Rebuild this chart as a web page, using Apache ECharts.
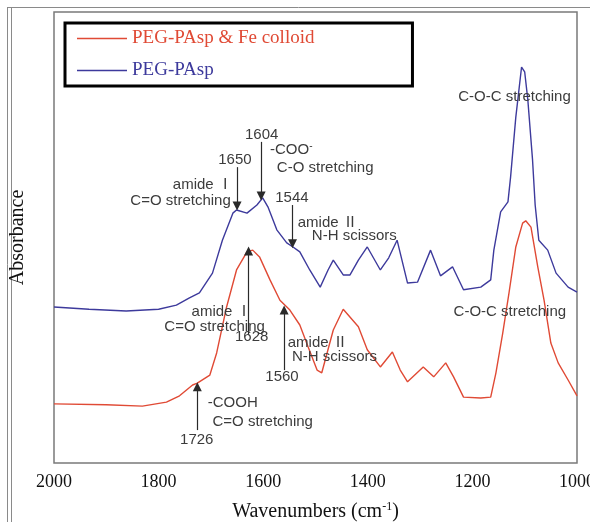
<!DOCTYPE html>
<html>
<head>
<meta charset="utf-8">
<script src="https://cdn.jsdelivr.net/npm/echarts@6/dist/echarts.min.js"></script>
<style>
  html, body { margin: 0; padding: 0; background: #fff; }
  #chart { width: 590px; height: 522px; }
</style>
</head>
<body>
<div id="chart"></div>
<script>
// wavenumber ticks
const xTicks = [2000, 1800, 1600, 1400, 1200, 1000];

// PEG-PAsp (blue)
const blueWn = [2000, 1933, 1862, 1800, 1766, 1741, 1722, 1697, 1678, 1658, 1651, 1631, 1612, 1601, 1591,
  1574, 1555, 1543, 1530, 1511, 1491, 1476, 1466, 1447, 1434, 1418, 1401, 1376, 1360, 1344, 1324, 1305,
  1280, 1261, 1238, 1217, 1184, 1165, 1159, 1146, 1132, 1127, 1117, 1106, 1100, 1094, 1085, 1080, 1073,
  1056, 1040, 1017, 1000];
const blueAbs = [0.346, 0.341, 0.337, 0.341, 0.350, 0.366, 0.377, 0.421, 0.494, 0.554, 0.561, 0.554, 0.572, 0.588, 0.568,
  0.517, 0.488, 0.479, 0.468, 0.428, 0.390, 0.428, 0.450, 0.417, 0.417, 0.450, 0.479, 0.428, 0.455, 0.494, 0.399, 0.401,
  0.472, 0.415, 0.435, 0.384, 0.390, 0.406, 0.472, 0.557, 0.579, 0.634, 0.767, 0.878, 0.867, 0.805, 0.672, 0.572, 0.494,
  0.472, 0.421, 0.390, 0.379];

// PEG-PAsp & Fe colloid (red)
const redWn = [2000, 1900, 1831, 1785, 1760, 1735, 1726, 1702, 1689, 1670, 1651, 1631, 1620, 1607, 1587,
  1568, 1549, 1530, 1514, 1497, 1488, 1466, 1447, 1418, 1401, 1376, 1353, 1338, 1324, 1294, 1274, 1251,
  1236, 1217, 1184, 1165, 1155, 1142, 1130, 1117, 1104, 1098, 1088, 1075, 1063, 1050, 1036, 1017, 1000];
const redAbs = [0.131, 0.129, 0.126, 0.135, 0.149, 0.173, 0.177, 0.195, 0.244, 0.346, 0.428, 0.468, 0.472, 0.457, 0.406,
  0.361, 0.339, 0.306, 0.257, 0.206, 0.200, 0.295, 0.341, 0.302, 0.251, 0.213, 0.246, 0.206, 0.180, 0.213, 0.191, 0.222,
  0.191, 0.146, 0.144, 0.146, 0.200, 0.288, 0.377, 0.479, 0.532, 0.537, 0.523, 0.435, 0.361, 0.266, 0.222, 0.184, 0.149];

// arrows: [wavenumber, from, to]
const blueArrows = [[1650, 0.656, 0.570], [1604, 0.712, 0.592], [1544, 0.572, 0.486]];
const redArrows = [[1628, 0.284, 0.470], [1560, 0.206, 0.339], [1726, 0.073, 0.169]];

// notes: [wavenumber, absorbance, text, align]
const blueNotes = [
  [1654, 0.672, '1650', 'center'],
  [1658, 0.616, 'amide Ⅰ', 'right'],
  [1662, 0.581, 'C=O stretching', 'right'],
  [1603, 0.727, '1604', 'center'],
  [1587, 0.694, '-COO{sup|-}', 'left'],
  [1574, 0.654, 'C-O stretching', 'left'],
  [1545, 0.588, '1544', 'center'],
  [1534, 0.532, 'amide Ⅱ', 'left'],
  [1507, 0.503, 'N-H scissors', 'left'],
  [1227, 0.812, 'C-O-C stretching', 'left']
];
const redNotes = [
  [1737, 0.335, 'amide Ⅰ', 'left'],
  [1789, 0.302, 'C=O stretching', 'left'],
  [1622, 0.279, '1628', 'center'],
  [1553, 0.266, 'amide Ⅱ', 'left'],
  [1545, 0.235, 'N-H scissors', 'left'],
  [1564, 0.191, '1560', 'center'],
  [1706, 0.133, '-COOH', 'left'],
  [1697, 0.091, 'C=O stretching', 'left'],
  [1727, 0.051, '1726', 'center'],
  [1236, 0.335, 'C-O-C stretching', 'left']
];

const noteFont = "'Liberation Sans', Arial, 'Noto Sans CJK JP', sans-serif";
const serif = "'Liberation Serif', 'Times New Roman', serif";

function pairs(xs, ys) { return xs.map((x, i) => [x, ys[i]]); }

function arrowLines(list) {
  return list.map(a => [{ coord: [a[0], a[1]], symbol: 'none' }, { coord: [a[0], a[2]], symbol: 'triangle', symbolSize: 9 }]);
}

function notePoints(list) {
  return list.map(n => ({
    coord: [n[0], n[1]],
    symbolSize: 0,
    label: {
      show: true,
      position: [0, 0],
      align: n[3],
      verticalAlign: 'middle',
      formatter: n[2],
      color: '#3c3c3c',
      fontSize: 15,
      fontFamily: noteFont,
      rich: { sup: { fontSize: 10, verticalAlign: 'top', padding: [0, 0, 8, 0], color: '#3c3c3c', fontFamily: noteFont } }
    }
  }));
}

function curve(name, color, xs, ys, arrows, notes) {
  return {
    name: name,
    type: 'line',
    data: pairs(xs, ys),
    symbol: 'none',
    lineStyle: { color: color, width: 1.4 },
    itemStyle: { color: color },
    silent: true,
    markLine: {
      silent: true,
      symbol: ['none', 'triangle'],
      symbolSize: 9,
      label: { show: false },
      lineStyle: { color: '#2a2a2a', width: 1.2, type: 'solid' },
      itemStyle: { color: '#2a2a2a' },
      data: arrowLines(arrows)
    },
    markPoint: { silent: true, symbol: 'circle', data: notePoints(notes) }
  };
}

const chart = echarts.init(document.getElementById('chart'));
chart.setOption({
  animation: false,
  backgroundColor: '#fff',
  graphic: [
    { type: 'line', shape: { x1: 7.5, y1: 7, x2: 7.5, y2: 522 }, style: { stroke: '#8a8a8a', lineWidth: 1 } },
    { type: 'line', shape: { x1: 11.5, y1: 7, x2: 11.5, y2: 522 }, style: { stroke: '#8a8a8a', lineWidth: 1 } },
    { type: 'line', shape: { x1: 7, y1: 7.5, x2: 590, y2: 7.5 }, style: { stroke: '#8a8a8a', lineWidth: 1 } }
  ],
  grid: { left: 54, right: 13, top: 12, bottom: 59, outerBoundsMode: 'none', containLabel: false,
    show: true, borderColor: '#7a7a7a', borderWidth: 1.5 },
  legend: {
    left: 65, top: 23,
    orient: 'vertical',
    icon: 'rect',
    itemWidth: 50, itemHeight: 1.5, itemGap: 13,
    padding: [6, 98, 6, 12],
    borderColor: '#000', borderWidth: 3,
    textStyle: { fontFamily: serif, fontSize: 19 },
    data: [
      { name: 'PEG-PAsp & Fe colloid', textStyle: { color: '#e04a35' } },
      { name: 'PEG-PAsp', textStyle: { color: '#3d3a9c' } }
    ]
  },
  xAxis: {
    type: 'value', min: 1000, max: 2000, interval: 200, inverse: true,
    name: 'Wavenumbers (cm{sup|-1})', nameLocation: 'middle', nameGap: 38,
    nameTextStyle: { fontFamily: serif, fontSize: 20, color: '#111',
      rich: { sup: { fontSize: 12, verticalAlign: 'top', padding: [0, 0, 10, 0], fontFamily: serif, color: '#111' } } },
    axisLine: { show: false }, axisTick: { show: false }, splitLine: { show: false },
    axisLabel: { fontFamily: serif, fontSize: 18, color: '#111', margin: 10,
      formatter: v => xTicks.includes(v) ? String(v) : '' }
  },
  yAxis: {
    type: 'value', min: 0, max: 1,
    name: 'Absorbance', nameLocation: 'middle', nameGap: 26, nameRotate: 90,
    nameTextStyle: { fontFamily: serif, fontSize: 20, color: '#111' },
    axisLine: { show: false }, axisTick: { show: false }, splitLine: { show: false },
    axisLabel: { show: false }
  },
  series: [
    curve('PEG-PAsp & Fe colloid', '#e04a35', redWn, redAbs, redArrows, redNotes),
    curve('PEG-PAsp', '#3d3a9c', blueWn, blueAbs, blueArrows, blueNotes)
  ]
});
</script>
</body>
</html>
